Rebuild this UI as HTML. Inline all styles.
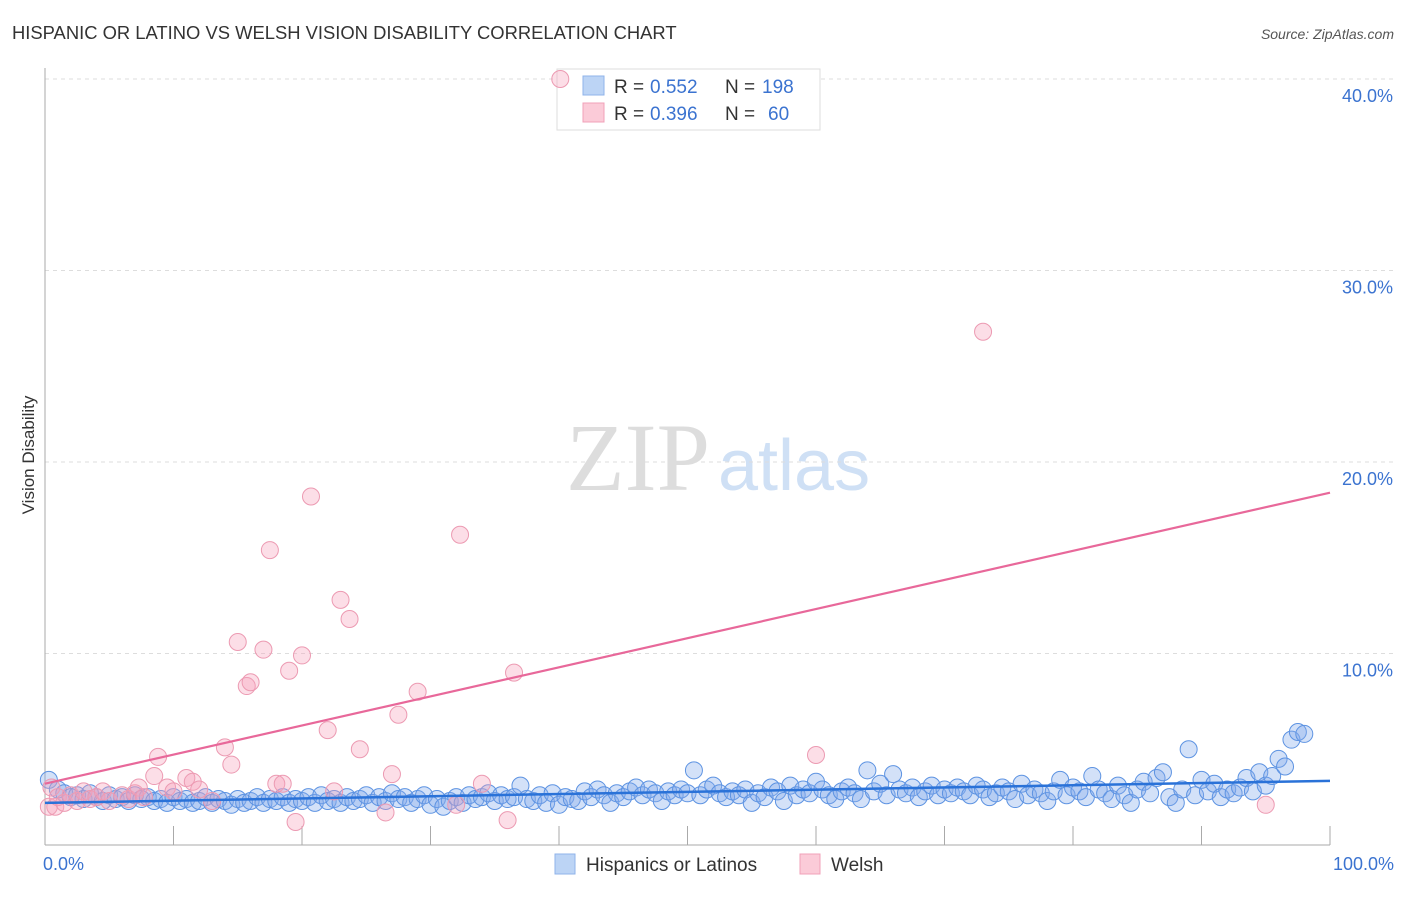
<!DOCTYPE html>
<html><head><meta charset="utf-8"><style>
body{margin:0;background:#fff;font-family:"Liberation Sans",sans-serif;}
</style></head><body>
<svg width="1406" height="892" xmlns="http://www.w3.org/2000/svg">
<text x="12" y="39" font-size="18.4" fill="#333">HISPANIC OR LATINO VS WELSH VISION DISABILITY CORRELATION CHART</text>
<text x="1394" y="39" font-size="14" fill="#555" font-style="italic" text-anchor="end">Source: ZipAtlas.com</text>
<text x="710" y="490" font-size="96" fill="#ddd" text-anchor="end" font-family="Liberation Serif">ZIP</text>
<text x="718" y="490" font-size="72" fill="#cfe0f5">atlas</text>
<g id="grid"></g>
<g id="axes"></g>
<g>
<rect x="557" y="69" width="263" height="61" fill="#fff" stroke="#ddd"/>
<rect x="583" y="76" width="21" height="19" fill="#bcd4f5" stroke="#8fb3ea"/>
<rect x="583" y="103" width="21" height="19" fill="#bcd4f5" stroke="#8fb3ea" opacity="0"/>
<rect x="583" y="103" width="21" height="19" fill="#fbcbd8" stroke="#f0a0b8"/>
<text y="93" font-size="19" fill="#333"><tspan x="614">R =</tspan><tspan x="650" fill="#3b73d0">0.552</tspan><tspan x="725">N =</tspan><tspan x="762" fill="#3b73d0">198</tspan></text>
<text y="120" font-size="19" fill="#333"><tspan x="614">R =</tspan><tspan x="650" fill="#3b73d0">0.396</tspan><tspan x="725">N =</tspan><tspan x="768" fill="#3b73d0">60</tspan></text>
</g>
<g id="pts"></g>
<g id="lines"></g>
<text transform="translate(34,455) rotate(-90)" font-size="17" fill="#333" text-anchor="middle">Vision Disability</text>
<g>
<rect x="555" y="854" width="20" height="20" fill="#bcd4f5" stroke="#8fb3ea"/>
<text x="586" y="871" font-size="19" fill="#333">Hispanics or Latinos</text>
<rect x="800" y="854" width="20" height="20" fill="#fbcbd8" stroke="#f0a0b8"/>
<text x="831" y="871" font-size="19" fill="#333">Welsh</text>
</g>
</svg>
<script>
const yTicks=[10,20,30,40];
const yTickLabels=["10.0%","20.0%","30.0%","40.0%"];
const xTickLabels=["0.0%","100.0%"];
const blueX=[0.3,1,1.5,2,2.5,3,3.5,4,4.5,5,5.5,6,6.5,7,7.5,8,8.5,9,9.5,10,10.5,11,11.5,12,12.5,13,13.5,14,14.5,15,15.5,16,16.5,17,17.5,18,18.5,19,19.5,20,20.5,21,21.5,22,22.5,23,23.5,24,24.5,25,25.5,26,26.5,27,27.5,28,28.5,29,29.5,30,30.5,31,31.5,32,32.5,33,33.5,34,34.5,35,35.5,36,36.5,37,37.5,38,38.5,39,39.5,40,40.5,41,41.5,42,42.5,43,43.5,44,44.5,45,45.5,46,46.5,47,47.5,48,48.5,49,49.5,50,50.5,51,51.5,52,52.5,53,53.5,54,54.5,55,55.5,56,56.5,57,57.5,58,58.5,59,59.5,60,60.5,61,61.5,62,62.5,63,63.5,64,64.5,65,65.5,66,66.5,67,67.5,68,68.5,69,69.5,70,70.5,71,71.5,72,72.5,73,73.5,74,74.5,75,75.5,76,76.5,77,77.5,78,78.5,79,79.5,80,80.5,81,81.5,82,82.5,83,83.5,84,84.5,85,85.5,86,86.5,87,87.5,88,88.5,89,89.5,90,90.5,91,91.5,92,92.5,93,93.5,94,94.5,95,95.5,96,96.5,97,97.5,98];
const blueY=[3.4,2.9,2.7,2.5,2.6,2.4,2.7,2.5,2.3,2.6,2.4,2.5,2.3,2.6,2.4,2.5,2.3,2.4,2.2,2.5,2.3,2.4,2.2,2.3,2.5,2.2,2.4,2.3,2.1,2.4,2.2,2.3,2.5,2.2,2.4,2.3,2.5,2.2,2.4,2.3,2.5,2.2,2.6,2.3,2.4,2.2,2.5,2.3,2.4,2.6,2.2,2.5,2.3,2.7,2.4,2.5,2.2,2.4,2.6,2.1,2.4,2.0,2.3,2.5,2.2,2.6,2.4,2.5,2.7,2.3,2.6,2.4,2.5,3.1,2.4,2.3,2.6,2.2,2.7,2.1,2.5,2.4,2.3,2.8,2.5,2.9,2.6,2.2,2.7,2.5,2.8,3.0,2.6,2.9,2.7,2.3,2.8,2.6,2.9,2.7,3.9,2.6,2.9,3.1,2.7,2.5,2.8,2.6,2.9,2.2,2.7,2.5,3.0,2.8,2.3,3.1,2.6,2.9,2.7,3.3,2.9,2.6,2.4,2.8,3.0,2.7,2.4,3.9,2.8,3.2,2.6,3.7,2.9,2.7,3.0,2.5,2.8,3.1,2.6,2.9,2.7,3.0,2.8,2.6,3.1,2.9,2.5,2.7,3.0,2.8,2.4,3.2,2.6,2.9,2.7,2.3,2.8,3.4,2.6,3.0,2.8,2.5,3.6,2.9,2.7,2.4,3.1,2.6,2.2,2.9,3.3,2.7,3.5,3.8,2.5,2.2,2.9,5.0,2.6,3.4,2.8,3.2,2.5,2.9,2.7,3.0,3.5,2.8,3.8,3.1,3.6,4.5,4.1,5.5,5.9,5.8];
const pinkX=[0.3,0.5,0.8,1,1.5,2,2.5,3,3.5,4,4.5,5,6,6.5,7,7.3,7.7,8.5,8.8,9.5,10,11,11.5,12,13,14,14.5,15,15.7,16,17,17.5,18,18.5,19,19.5,20,20.7,22,22.5,23,23.7,24.5,26.5,27,27.5,29,32,32.3,34,36,36.5,40.1,60,73,95];
const pinkY=[2.0,3.0,2.0,2.5,2.2,2.6,2.3,2.8,2.4,2.5,2.8,2.3,2.6,2.4,2.7,3.0,2.5,3.6,4.6,3.0,2.8,3.5,3.3,2.9,2.3,5.1,4.2,10.6,8.3,8.5,10.2,15.4,3.2,3.2,9.1,1.2,9.9,18.2,6.0,2.8,12.8,11.8,5.0,1.7,3.7,6.8,8.0,2.1,16.2,3.2,1.3,9.0,40.0,4.7,26.8,2.1];
const blueTrend=[2.2,3.35];
const pinkTrend=[3.2,18.4];
const NS='http://www.w3.org/2000/svg';
const X0=45,X1=1330,Y0=845,PX=(X1-X0)/100,PY=19.15;
const sx=v=>X0+v*PX, sy=v=>Y0-v*PY;
function mk(t,a,p){const e=document.createElementNS(NS,t);for(const k in a)e.setAttribute(k,a[k]);p.appendChild(e);return e;}
const grid=document.getElementById('grid'),axes=document.getElementById('axes'),pts=document.getElementById('pts'),lines=document.getElementById('lines');
yTicks.forEach((t,i)=>{
 const l=mk('line',{x1:X0,x2:1395,y1:sy(t),y2:sy(t),stroke:'#ddd','stroke-dasharray':'4,4'},grid);
 
 
 const tx=mk('text',{x:1393,y:sy(t)+23,'font-size':18,fill:'#3b73d0','text-anchor':'end'},axes);
 tx.textContent=yTickLabels[i];
 
 
});
const ya=mk('line',{x1:X0,x2:X0,y1:68,y2:Y0,stroke:'#aaa'},axes);


const xa=mk('line',{x1:X0,x2:X1,y1:Y0,y2:Y0,stroke:'#aaa'},axes);


for(let i=1;i<=10;i++){
 const tk=mk('line',{x1:sx(i*10),x2:sx(i*10),y1:Y0-19,y2:Y0,stroke:'#aaa'},axes);
 
 
}
[[0,'start',X0-2],[1,'end',1394]].forEach(([i,a,x])=>{
 const tx=mk('text',{x:x,y:870,'font-size':18,fill:'#3b73d0','text-anchor':a},axes);
 tx.textContent=xTickLabels[i];
 
 
});
blueX.forEach((x,i)=>{
 const c=mk('circle',{cx:sx(x),cy:sy(blueY[i]),r:8.5,fill:'rgba(130,170,235,0.35)',stroke:'#5d93e2','stroke-width':1},pts);
 
 
});
pinkX.forEach((x,i)=>{
 const c=mk('circle',{cx:sx(x),cy:sy(pinkY[i]),r:8.5,fill:'rgba(245,160,185,0.35)',stroke:'#ec9ab2','stroke-width':1},pts);
 
 
});
const bl=mk('line',{x1:sx(0),x2:sx(100),y1:sy(blueTrend[0]),y2:sy(blueTrend[1]),stroke:'#2a72d8','stroke-width':2.5},lines);


const pl=mk('line',{x1:sx(0),x2:sx(100),y1:sy(pinkTrend[0]),y2:sy(pinkTrend[1]),stroke:'#e8689a','stroke-width':2.2},lines);


</script>
</body></html>
